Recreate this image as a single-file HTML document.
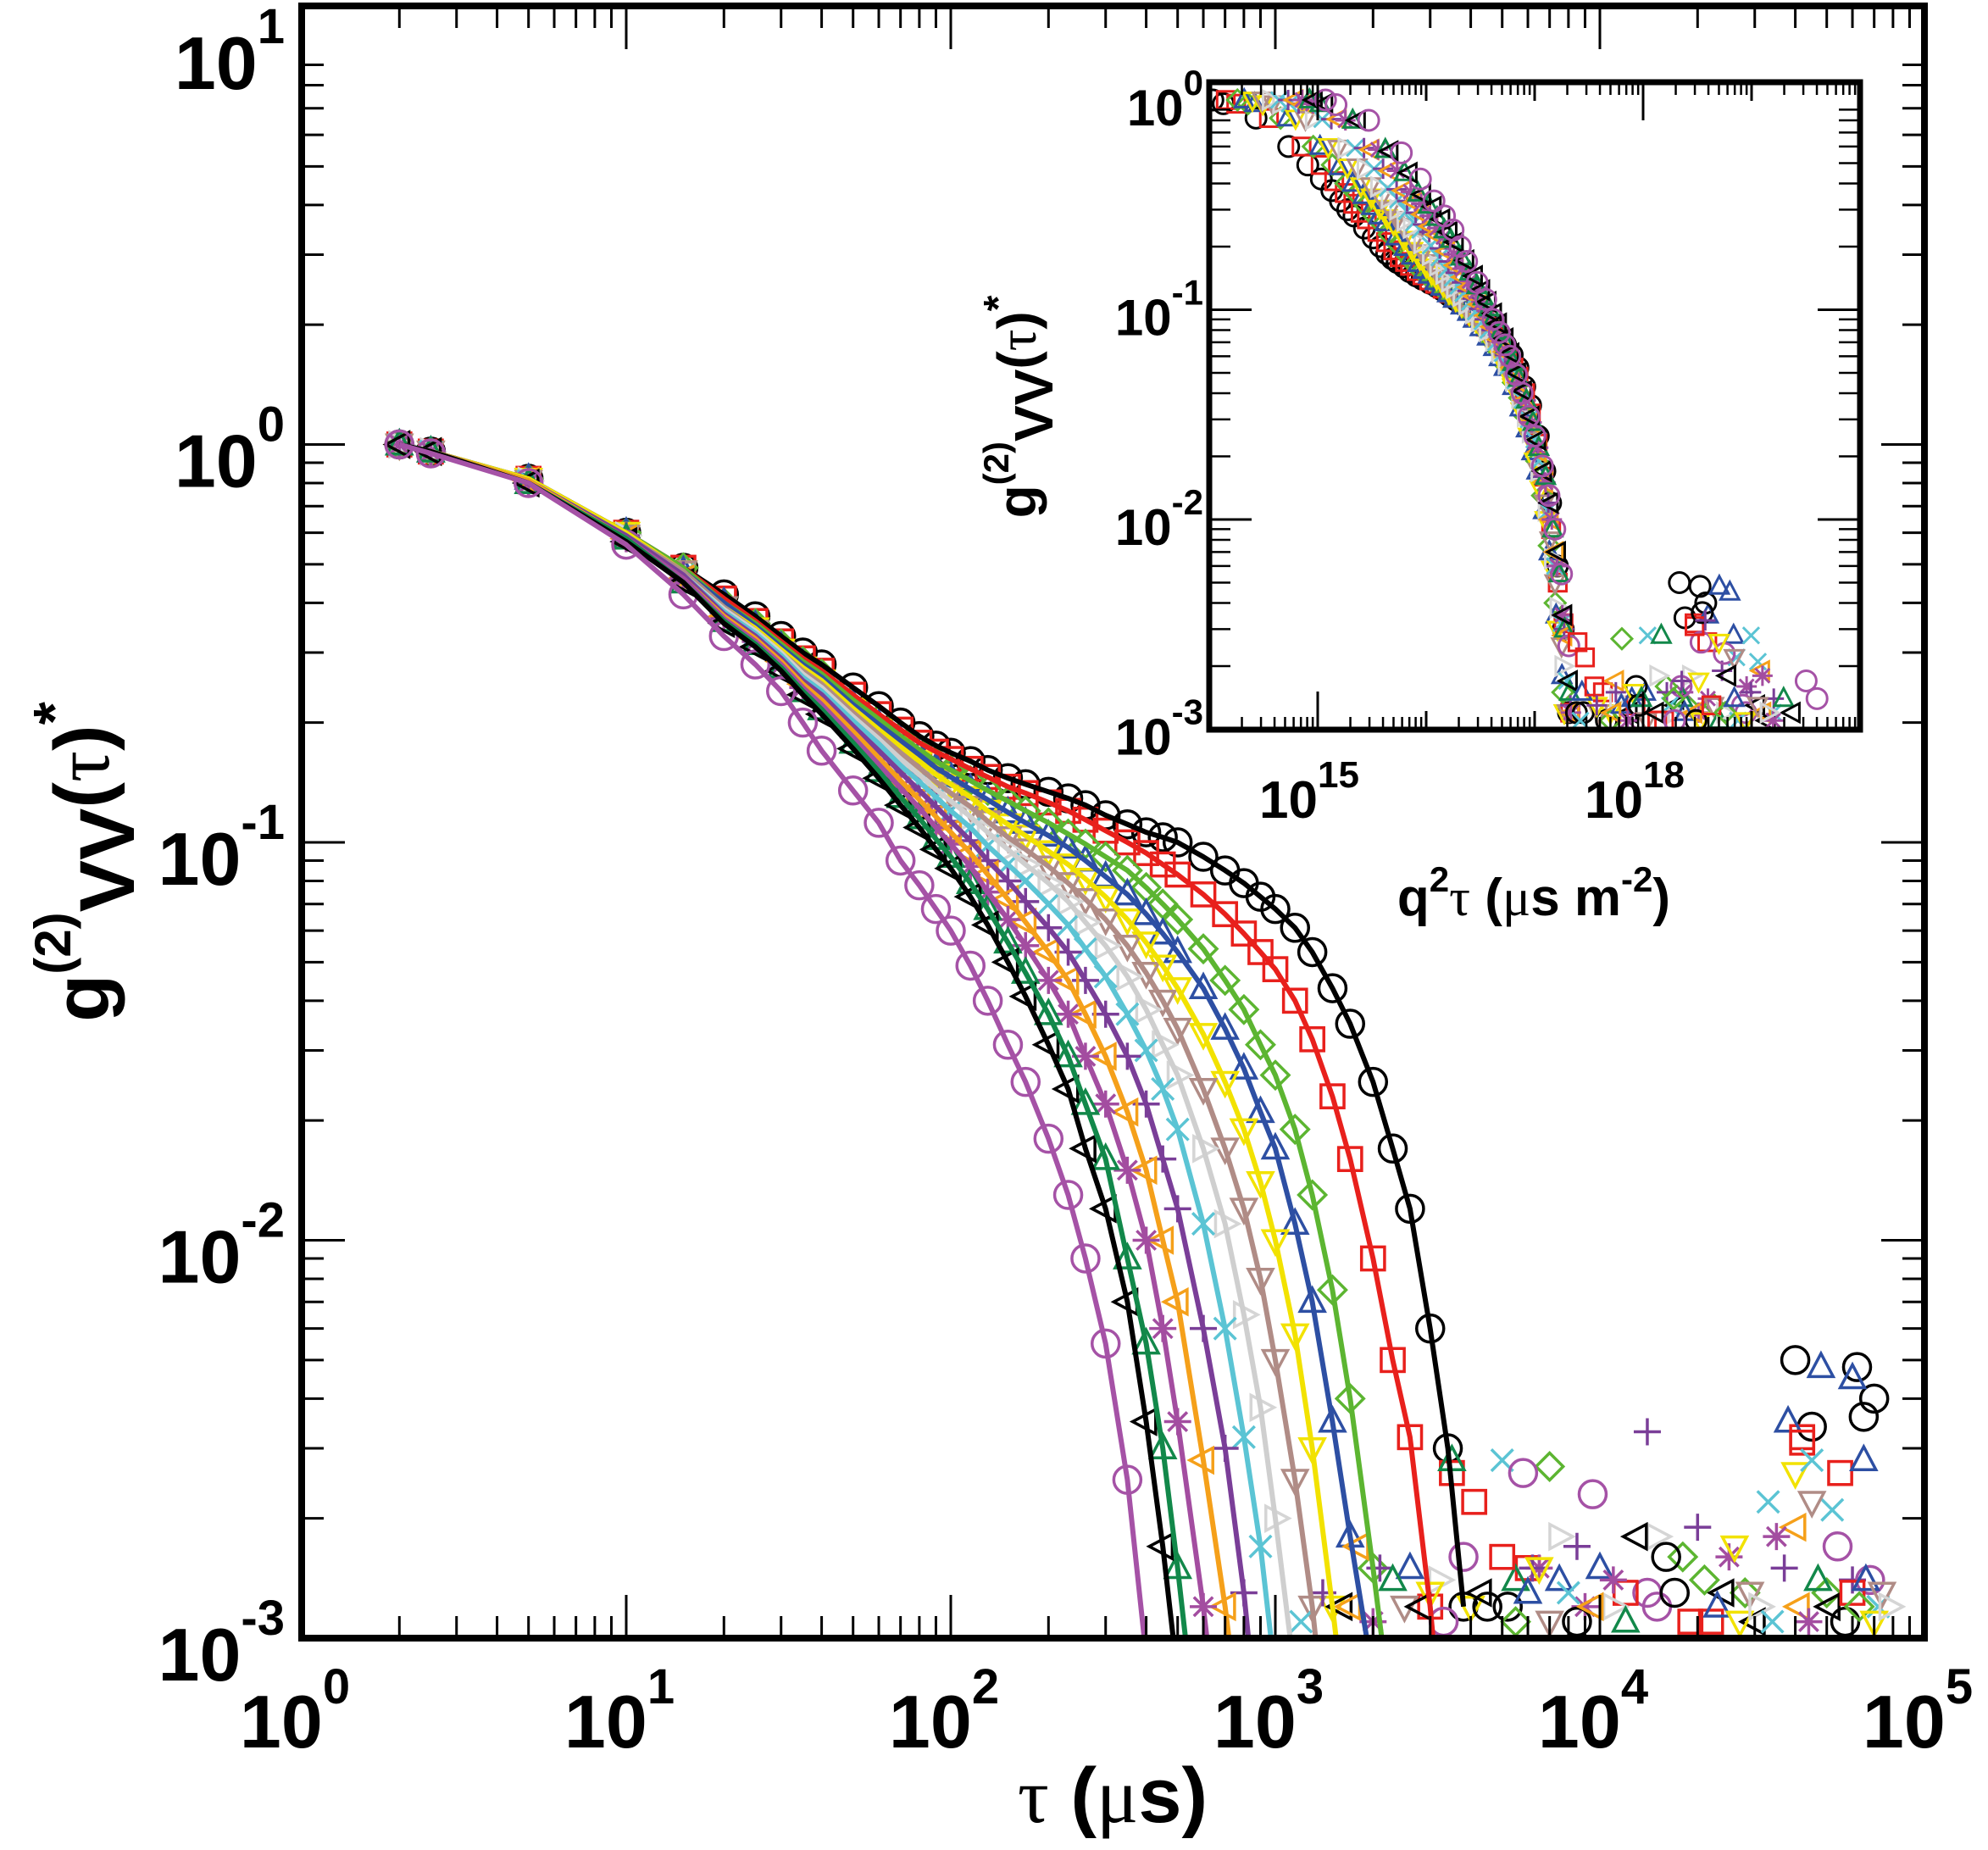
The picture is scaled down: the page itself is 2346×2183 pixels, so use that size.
<!DOCTYPE html>
<html><head><meta charset="utf-8"><style>
html,body{margin:0;padding:0;background:#fff;}
svg{display:block;font-family:"Liberation Sans",sans-serif;font-weight:bold;}
</style></head><body>
<svg id="chart" xmlns="http://www.w3.org/2000/svg" width="2346" height="2183" viewBox="0 0 2346 2183">
<defs>
<clipPath id="mainClip"><rect x="356" y="7" width="1915" height="1926"/></clipPath>
<clipPath id="insetClip"><rect x="1427" y="97" width="768" height="764"/></clipPath>
</defs>
<rect x="0" y="0" width="2346" height="2183" fill="#fff"/>
<g id="mainMarks" clip-path="url(#mainClip)"></g>
<g id="mainAxes"></g>
<rect x="356" y="7" width="1915" height="1926" fill="none" stroke="#000" stroke-width="8"/>
<text x="1313" y="2150" font-size="92" text-anchor="middle"><tspan font-family="Liberation Serif" font-weight="normal">τ</tspan> (<tspan font-family="Liberation Serif" font-weight="normal">μ</tspan>s)</text>
<text transform="translate(128,1017) rotate(-90)" font-size="92" text-anchor="middle">g<tspan font-size="60" dy="-45">(2)</tspan><tspan font-size="92" dy="75">VV</tspan><tspan dy="-30">(<tspan font-family="Liberation Serif" font-weight="normal">τ</tspan>)</tspan><tspan font-size="70" dy="-40">*</tspan></text>

<rect x="1427" y="97" width="768" height="764" fill="#fff"/>
<g id="insetMarks" clip-path="url(#insetClip)"></g>
<g id="insetAxes"></g>
<rect x="1427" y="97" width="768" height="764" fill="none" stroke="#000" stroke-width="7"/>
<text x="1810" y="1080" font-size="62" text-anchor="middle">q<tspan font-size="42" dy="-28">2</tspan><tspan dy="28" font-family="Liberation Serif" font-weight="normal">τ</tspan> (<tspan font-family="Liberation Serif" font-weight="normal">μ</tspan>s m<tspan font-size="42" dy="-28">-2</tspan><tspan dy="28">)</tspan></text>
<text transform="translate(1222,480) rotate(-90)" font-size="64" text-anchor="middle">g<tspan font-size="42" dy="-32">(2)</tspan><tspan font-size="64" dy="52">VV</tspan><tspan dy="-20">(<tspan font-family="Liberation Serif" font-weight="normal">τ</tspan>)</tspan><tspan font-size="48" dy="-28">*</tspan></text>
</svg>
<script>
// ---- data ----
const taus = [2,2.5,5,10,15,20,25,30,35,40,50,60,70,80,90,100,115,130,150,170,200,230,260,300,350,400,450,500,600,700,800,900,1000,1150,1300,1500,1700,2000,2300,2600,3000,3400,3800];
const s1 = [1,.96,.82,.6,.49,.42,.37,.33,.3,.28,.245,.22,.2,.185,.175,.168,.16,.152,.145,.14,.134,.129,.124,.117,.111,.106,.103,.1,.092,.085,.079,.073,.068,.061,.053,.043,.035,.025,.017,.012,.006,.003,.0012];
const s2 = [1,.96,.82,.6,.49,.41,.36,.32,.29,.27,.235,.21,.192,.178,.169,.162,.153,.146,.138,.133,.126,.12,.114,.107,.1,.094,.088,.083,.074,.066,.059,.053,.048,.04,.032,.023,.016,.009,.005,.0032,.0012,.0004];
const s3 = [1,.96,.82,.6,.49,.4,.355,.315,.285,.265,.228,.204,.185,.171,.16,.152,.143,.135,.127,.12,.112,.105,.099,.092,.085,.077,.07,.064,.054,.045,.038,.031,.026,.019,.013,.0075,.004,.0015,.0006];
const s4 = [1,.96,.82,.6,.48,.4,.35,.31,.28,.26,.222,.198,.18,.166,.154,.146,.136,.128,.119,.112,.104,.097,.09,.082,.074,.066,.059,.053,.043,.034,.027,.021,.017,.011,.007,.0035,.0018,.0008];
const s5 = [1,.96,.82,.6,.48,.39,.345,.305,.275,.255,.217,.192,.174,.16,.148,.14,.13,.12,.111,.104,.095,.088,.081,.073,.064,.056,.049,.043,.033,.025,.019,.014,.01,.0058,.003,.0012,.0005];
const s6 = [1,.96,.81,.59,.48,.39,.34,.3,.27,.25,.212,.187,.168,.154,.142,.133,.123,.113,.103,.096,.087,.079,.072,.064,.055,.047,.04,.034,.024,.017,.012,.008,.005,.0025,.0012,.0004];
const s7 = [1,.96,.81,.59,.47,.385,.34,.3,.265,.245,.207,.182,.162,.148,.136,.127,.116,.106,.096,.088,.079,.071,.063,.055,.046,.038,.031,.026,.017,.011,.0065,.0038,.002,.0008];
const s8 = [1,.96,.81,.59,.47,.38,.335,.295,.26,.24,.202,.177,.156,.142,.13,.12,.109,.098,.088,.08,.07,.062,.054,.046,.037,.03,.024,.019,.011,.006,.0032,.0017,.0008];
const s9 = [1,.96,.81,.59,.47,.375,.33,.29,.255,.235,.196,.17,.15,.135,.123,.113,.101,.09,.08,.071,.061,.053,.045,.037,.029,.022,.016,.012,.006,.003,.0013,.0005];
const s10 = [1,.96,.81,.58,.46,.37,.325,.285,.25,.228,.19,.163,.143,.128,.116,.106,.094,.083,.072,.063,.053,.045,.037,.029,.021,.015,.01,.007,.0028,.0012,.0005];
const s11 = [1,.96,.8,.58,.46,.365,.32,.28,.245,.222,.184,.157,.137,.122,.109,.099,.087,.075,.064,.055,.045,.037,.029,.022,.015,.01,.006,.0035,.0012,.0004];
const s12 = [1,.96,.8,.58,.45,.36,.315,.275,.24,.216,.178,.151,.13,.115,.102,.092,.079,.068,.056,.047,.037,.029,.022,.016,.009,.0055,.003,.0015,.0004];
const s13 = [1,.96,.8,.57,.45,.355,.31,.27,.235,.21,.172,.145,.124,.109,.096,.086,.073,.062,.05,.041,.031,.024,.017,.012,.007,.0035,.0017,.0008];
const s14 = [1,.95,.8,.56,.42,.33,.28,.24,.2,.17,.135,.112,.09,.078,.068,.06,.049,.04,.031,.025,.018,.013,.009,.0055,.0025,.0009];
const seriesValues = [s1,s2,s3,s4,s5,s6,s7,s8,s9,s10,s11,s12,s13,s14];
const seriesColors = ['#000000','#e8201c','#5cb531','#2d4fa3','#f2e200','#b08c86','#d5d5d5','#5bc4d4','#7a3e98','#f5a01a','#a34da0','#12884a','#000000','#a552a6'];
const seriesMarkers = ['o','s','d','^','v','v','>','x','+','<','*','^','<','o'];
const qSquared = [5.4e13,7.1e13,9.1e13,1.05e14,1.25e14,1.54e14,1.82e14,2.2e14,2.67e14,3.1e14,3.6e14,4.2e14,4.65e14,5.9e14];
// baseline noise points
const noiseSeries = [0,0,0,0,1,1,1,1,2,2,3,3,3,4,5,6,6,7,7,8,8,9,10,10,10,11,12,12,13,13,13,0,1,3,7,8,12,0,2,4,6,9,10,11,13,1,3,5,7,12,0,13,8,2,4,
  0,1,2,3,4,5,6,7,8,9,10,11,12,13,0,1,2,3,4,5,6,7,8,9,10,11,12,13,0,1,2,3,4,5,6,7,8,9,10,11,12,13,1,3,1,4,7,0,3,8];
const noiseTau = [40000,45000,62000,70000,3500,6000,42000,55000,7000,28000,10000,48000,65000,4000,2500,3200,15000,5000,33000,20000,60000,1800,6500,9000,25000,5500,1600,30000,5800,9500,14000,5200,12000,7500,52000,2100,4300,8500,18000,3000,11000,40000,35000,3500,68000,22000,2600,45000,72000,24000,16000,3800,6200,50000,26000,
  4500,5000,5500,6000,6500,7000,7500,8000,8500,9500,11000,12000,13000,15000,17000,19000,21000,23000,27000,29000,31000,34000,37000,41000,44000,47000,51000,54000,57000,60000,63000,66000,70000,74000,78000,1200,1400,1700,2000,2300,2800,3300,4100,38000,42000,40000,45000,65000,60000,14000];
const noiseVal = [.005,.0034,.0048,.004,.0026,.0015,.0032,.0026,.0027,.0013,.0015,.0048,.0028,.0012,.0012,.0014,.0018,.0028,.0022,.0019,.0014,.0017,.0015,.0012,.0016,.0014,.0012,.0011,.0026,.0023,.0013,.0012,.0013,.0014,.0021,.0015,.0013,.0011,.0016,.0013,.0012,.0019,.0018,.0028,.0014,.0011,.0015,.0022,.0012,.0013,.0016,.0016,.0015,.0013,.0017,
  .0012,.0016,.0011,.0013,.0015,.0011,.0018,.0013,.0017,.0012,.0014,.0011,.0018,.0012,.0013,.0011,.0014,.0012,.0011,.0013,.0012,.0011,.0015,.0012,.0011,.0014,.0012,.0017,.0011,.0013,.0012,.0014,.0011,.0013,.0012,.0011,.0013,.0012,.0011,.0014,.0012,.0011,.0022,.0035,.0031,.0026,.0028,.0036,.0045,.0033];

const mainXTicks = [0,1,2,3,4,5];
const mainYTicks = [1,0,-1,-2,-3];
const insetXTicks = [15,18];
const insetYTicks = [0,-1,-2,-3];

// ---- scales ----
const X = t => 356 + Math.log10(t)*383;
const Y = v => 55 + (1 - Math.log10(v))*469.5;
const IX = q => 1427 + (Math.log10(q) - 14)*128;
const IY = v => 118 - Math.log10(v)*247.5;
const NS = 'http://www.w3.org/2000/svg';
function mk(tag, attrs, parent){ const e=document.createElementNS(NS,tag); for(const k in attrs) e.setAttribute(k,attrs[k]); parent.appendChild(e); return e; }

function marker(g, type, x, y, r, color, sw){
  let e;
  const c = {fill:'none', stroke:color, 'stroke-width':sw};
  if(type==='o'){ e=mk('circle',Object.assign({cx:x,cy:y,r:r},c),g); }
  else if(type==='s'){ e=mk('rect',Object.assign({x:x-r*0.85,y:y-r*0.85,width:r*1.7,height:r*1.7},c),g); }
  else if(type==='d'){ e=mk('polygon',Object.assign({points:`${x},${y-r} ${x+r},${y} ${x},${y+r} ${x-r},${y}`},c),g); }
  else if(type==='^'){ e=mk('polygon',Object.assign({points:`${x},${y-r} ${x+r*0.9},${y+r*0.7} ${x-r*0.9},${y+r*0.7}`},c),g); }
  else if(type==='v'){ e=mk('polygon',Object.assign({points:`${x},${y+r} ${x+r*0.9},${y-r*0.7} ${x-r*0.9},${y-r*0.7}`},c),g); }
  else if(type==='>'){ e=mk('polygon',Object.assign({points:`${x+r},${y} ${x-r*0.7},${y-r*0.9} ${x-r*0.7},${y+r*0.9}`},c),g); }
  else if(type==='<'){ e=mk('polygon',Object.assign({points:`${x-r},${y} ${x+r*0.7},${y-r*0.9} ${x+r*0.7},${y+r*0.9}`},c),g); }
  else if(type==='x'){ e=mk('path',Object.assign({d:`M${x-r*0.8},${y-r*0.8}L${x+r*0.8},${y+r*0.8}M${x-r*0.8},${y+r*0.8}L${x+r*0.8},${y-r*0.8}`},c),g); }
  else if(type==='+'){ e=mk('path',Object.assign({d:`M${x-r},${y}L${x+r},${y}M${x},${y-r}L${x},${y+r}`},c),g); }
  else { e=mk('path',Object.assign({d:`M${x-r},${y}L${x+r},${y}M${x},${y-r}L${x},${y+r}M${x-r*0.7},${y-r*0.7}L${x+r*0.7},${y+r*0.7}M${x-r*0.7},${y+r*0.7}L${x+r*0.7},${y-r*0.7}`},c),g); }
  
  
}

function drawPlot(g, xs, ys, r, sw, lw, isInset){
  seriesValues.forEach((vals,i)=>{
    const sg = mk('g',{},g);
    
    
    vals.forEach((v,j)=>{
      if(v<0.0009) return;
      const t = isInset ? taus[j]*qSquared[i] : taus[j];
      marker(sg, seriesMarkers[i], xs(t), ys(v), r, seriesColors[i], sw);
    });
  });
  const ng = mk('g',{},g);
  
  
  noiseTau.forEach((t,k)=>{
    const i = noiseSeries[k];
    const tt = isInset ? t*qSquared[i] : t;
    marker(ng, seriesMarkers[i], xs(tt), ys(noiseVal[k]), r, seriesColors[i], sw);
  });
  if(isInset) return;
  seriesValues.forEach((vals,i)=>{
    const pts = vals.map((v,j)=> xs(taus[j]).toFixed(1)+','+ys(v).toFixed(1)).join(' ');
    const pl = mk('polyline',{points:pts,fill:'none',stroke:seriesColors[i]==='#d5d5d5'?'#cfcfcf':seriesColors[i],'stroke-width':lw,'stroke-linejoin':'round'},g);
    
    
  });
}

drawPlot(document.getElementById('mainMarks'), X, Y, 16, 3.5, 6, false);
drawPlot(document.getElementById('insetMarks'), IX, IY, 12, 3, 4, true);

// ---- main axes ticks & labels ----
const ax = document.getElementById('mainAxes');
mainXTicks.forEach(d=>{
  const x = 356 + d*383;
  if(d>0 && d<5){
    const l1 = mk('line',{x1:x,y1:1933,x2:x,y2:1882,stroke:'#000','stroke-width':3},ax);
     
    const l2 = mk('line',{x1:x,y1:7,x2:x,y2:58,stroke:'#000','stroke-width':3},ax);
     
  }
  if(d<5){
    for(let m=2;m<=9;m++){
      const xm = x + Math.log10(m)*383;
      const a = mk('line',{x1:xm,y1:1933,x2:xm,y2:1907,stroke:'#000','stroke-width':3},ax);
       
      const b = mk('line',{x1:xm,y1:7,x2:xm,y2:33,stroke:'#000','stroke-width':3},ax);
       
    }
  }
  const t = mk('text',{x:x-8,y:2062,'font-size':88,'text-anchor':'middle'},ax);
   
  t.innerHTML = '10<tspan font-size="58" dy="-52">'+d+'</tspan>';
});
mainYTicks.forEach(d=>{
  const y = Y(Math.pow(10,d));
  if(d<1 && d>-3){
    const l1 = mk('line',{x1:356,y1:y,x2:407,y2:y,stroke:'#000','stroke-width':3},ax);
     
    const l2 = mk('line',{x1:2271,y1:y,x2:2220,y2:y,stroke:'#000','stroke-width':3},ax);
     
  }
  for(let m=2;m<=9;m++){
    const ym = Y(Math.pow(10,d)*m);
    if(ym<7) continue;
    const a = mk('line',{x1:356,y1:ym,x2:382,y2:ym,stroke:'#000','stroke-width':3},ax);
     
    const b = mk('line',{x1:2271,y1:ym,x2:2245,y2:ym,stroke:'#000','stroke-width':3},ax);
     
  }
  const t = mk('text',{x:336,y:y+50,'font-size':88,'text-anchor':'end'},ax);
   
  t.innerHTML = '10<tspan font-size="58" dy="-54">'+d+'</tspan>';
});

// ---- inset axes ----
const ia = document.getElementById('insetAxes');
const IB = 861, IT = 97;
for(let d=14; d<20; d++){
  const x = IX(Math.pow(10,d));
  if(d>14){
    const big = insetXTicks.includes(d) ? 45 : 22;
    const a = mk('line',{x1:x,y1:IB,x2:x,y2:IB-big,stroke:'#000','stroke-width':3},ia);
     
    const b = mk('line',{x1:x,y1:IT,x2:x,y2:IT+big,stroke:'#000','stroke-width':3},ia);
     
  }
  for(let m=2;m<=9;m++){
    const xm = IX(Math.pow(10,d)*m);
    const a = mk('line',{x1:xm,y1:IB,x2:xm,y2:IB-15,stroke:'#000','stroke-width':2.5},ia);
     
    const b = mk('line',{x1:xm,y1:IT,x2:xm,y2:IT+15,stroke:'#000','stroke-width':2.5},ia);
     
  }
}
insetXTicks.forEach(d=>{
  const t = mk('text',{x:IX(Math.pow(10,d))-10,y:965,'font-size':62,'text-anchor':'middle'},ia);
   
  t.innerHTML = '10<tspan font-size="44" dy="-36">'+d+'</tspan>';
});
insetYTicks.forEach(d=>{
  const y = IY(Math.pow(10,d));
  if(d<0 && d>-3){
    const a = mk('line',{x1:1427,y1:y,x2:1477,y2:y,stroke:'#000','stroke-width':3},ia);
     
    const b = mk('line',{x1:2195,y1:y,x2:2145,y2:y,stroke:'#000','stroke-width':3},ia);
     
  }
  if(d>-3){
    for(let m=2;m<=9;m++){
      const ym = IY(Math.pow(10,d-1)*m);
      const a = mk('line',{x1:1427,y1:ym,x2:1452,y2:ym,stroke:'#000','stroke-width':2.5},ia);
       
      const b = mk('line',{x1:2195,y1:ym,x2:2170,y2:ym,stroke:'#000','stroke-width':2.5},ia);
       
    }
  }
  const t = mk('text',{x:1420,y:y+30,'font-size':60,'text-anchor':'end'},ia);
   
  t.innerHTML = '10<tspan font-size="42" dy="-36">'+d+'</tspan>';
});
</script>
</body></html>
